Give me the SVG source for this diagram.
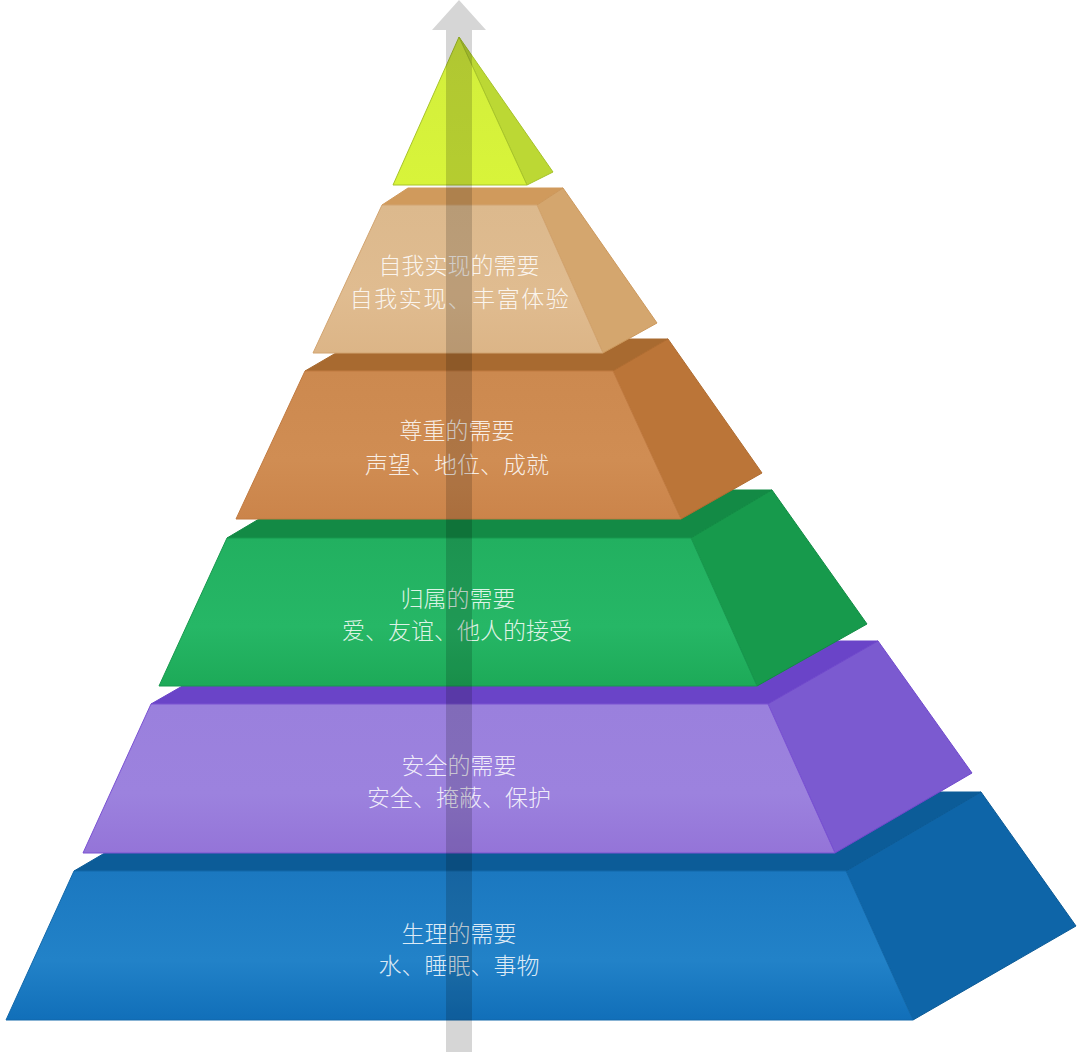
<svg xmlns="http://www.w3.org/2000/svg" width="1080" height="1052" viewBox="0 0 1080 1052">
<defs>
<linearGradient id="gApex" x1="0" y1="0" x2="0" y2="1"><stop offset="0" stop-color="#d2ee3c"/><stop offset="1" stop-color="#d8f43a"/></linearGradient>
<linearGradient id="gTan" x1="0" y1="0" x2="0" y2="1"><stop offset="0" stop-color="#dcb98d"/><stop offset="0.6" stop-color="#e0bc90"/><stop offset="1" stop-color="#dcb587"/></linearGradient>
<linearGradient id="gOra" x1="0" y1="0" x2="0" y2="1"><stop offset="0" stop-color="#cc894f"/><stop offset="0.6" stop-color="#d08d53"/><stop offset="1" stop-color="#cb844a"/></linearGradient>
<linearGradient id="gGrn" x1="0" y1="0" x2="0" y2="1"><stop offset="0" stop-color="#22b060"/><stop offset="0.6" stop-color="#26b766"/><stop offset="1" stop-color="#1daa58"/></linearGradient>
<linearGradient id="gPur" x1="0" y1="0" x2="0" y2="1"><stop offset="0" stop-color="#9a80dd"/><stop offset="0.6" stop-color="#9c82de"/><stop offset="1" stop-color="#9474d8"/></linearGradient>
<linearGradient id="gBlu" x1="0" y1="0" x2="0" y2="1"><stop offset="0" stop-color="#1b78c0"/><stop offset="0.6" stop-color="#2282c8"/><stop offset="1" stop-color="#116fb9"/></linearGradient>
</defs>
<style>
.f{stroke-width:1;stroke-linejoin:round}
.t{font-family:"Noto Sans CJK SC","Noto Sans CJK JP",sans-serif;font-size:23px;font-weight:300;fill:#ffffff;fill-opacity:0.86;text-anchor:middle;dominant-baseline:central}
</style>
<rect width="1080" height="1052" fill="#ffffff"/>

<g id="layer-physiological">
<polygon class="f" points="74,871 209,792 981,792 846,871" fill="#0c5c98" stroke="#0c5c98"/>
<polygon class="f" points="846,871 981,792 1076,926 913,1020" fill="#0e65a8" stroke="#0b5a96"/>
<polygon class="f" points="74,871 846,871 913,1020 6,1020" fill="url(#gBlu)" stroke="#1268aa"/>
<text class="t" x="459" y="932">生理的需要</text>
<text class="t" x="459" y="964">水、睡眠、事物</text>
</g>

<g id="layer-safety">
<polygon class="f" points="151,704 261,641 878,641 768,704" fill="#6a44c8" stroke="#6a44c8"/>
<polygon class="f" points="768,704 878,641 972,773 835,853" fill="#7b5ad0" stroke="#7048cc"/>
<polygon class="f" points="151,704 768,704 835,853 83,853" fill="url(#gPur)" stroke="#7a52d2"/>
<text class="t" x="459" y="764">安全的需要</text>
<text class="t" x="459" y="796">安全、掩蔽、保护</text>
</g>

<g id="layer-belonging">
<polygon class="f" points="227,538 308,490 772,490 691,538" fill="#138a45" stroke="#138a45"/>
<polygon class="f" points="691,538 772,490 867,624 757,686" fill="#179a4c" stroke="#128c44"/>
<polygon class="f" points="227,538 691,538 757,686 159,686" fill="url(#gGrn)" stroke="#17994e"/>
<text class="t" x="458" y="597">归属的需要</text>
<text class="t" x="457" y="629">爱、友谊、他人的接受</text>
</g>

<g id="layer-esteem">
<polygon class="f" points="305,371 360,339 668,339 613,371" fill="#a86a30" stroke="#a86a30"/>
<polygon class="f" points="613,371 668,339 762,473 681,519" fill="#bb7538" stroke="#b06c30"/>
<polygon class="f" points="305,371 613,371 681,519 236,519" fill="url(#gOra)" stroke="#c07a40"/>
<text class="t" x="457" y="429">尊重的需要</text>
<text class="t" x="457" y="463">声望、地位、成就</text>
</g>

<g id="layer-self-actualization">
<polygon class="f" points="382,205 408,188 563,188 537,205" fill="#d09a5c" stroke="#d09a5c"/>
<polygon class="f" points="537,205 563,188 657,323 603,353" fill="#d4a66e" stroke="#cc985c"/>
<polygon class="f" points="382,205 537,205 603,353 313,353" fill="url(#gTan)" stroke="#d2a470"/>
<text class="t" x="459" y="264">自我实现的需要</text>
<text class="t" x="460" y="297" letter-spacing="1.5">自我实现、丰富体验</text>
</g>

<g id="apex">
<polygon class="f" points="459,37 553,172 527,185" fill="#bcd834" stroke="#a6c22a"/>
<polygon class="f" points="459,37 527,185 393,185" fill="url(#gApex)" stroke="#a8c42a"/>
</g>

<g id="connectors">
<polygon points="459,0 486,30 472,30 472,1052 446,1052 446,30 432,30" fill="#000000" fill-opacity="0.16"/>
</g>
</svg>
